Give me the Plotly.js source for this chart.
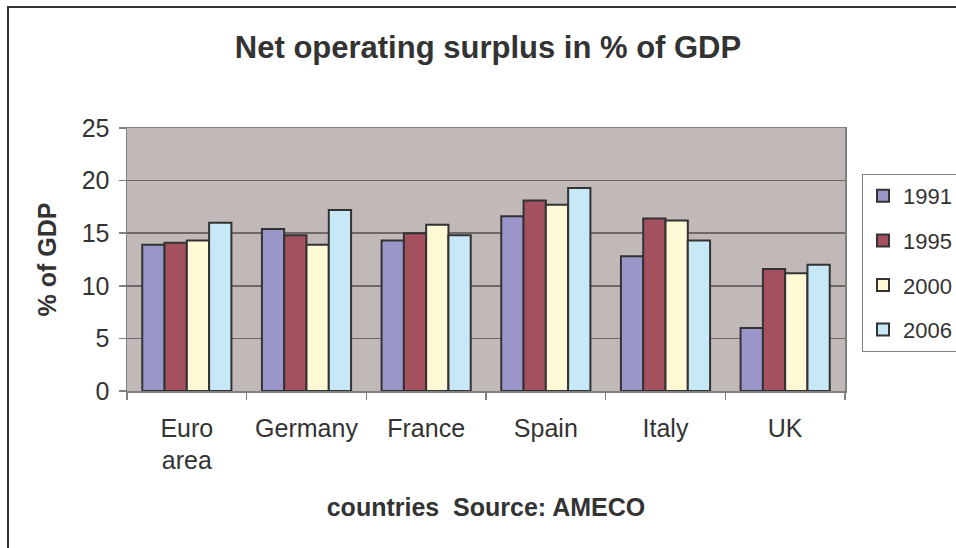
<!DOCTYPE html>
<html>
<head>
<meta charset="utf-8">
<script src="https://cdn.plot.ly/plotly-3.0.1.min.js"></script>
<style>
html,body{margin:0;padding:0;background:#fff;overflow:hidden;}
#chart{position:absolute;left:0;top:0;width:956px;height:548px;}
</style>
</head>
<body>
<div id="chart"></div>
<script>
const categories = ["Euro<br>area", "Germany", "France", "Spain", "Italy", "UK"];
const years = ["1991", "1995", "2000", "2006"];
const v1991 = [13.9, 15.4, 14.3, 16.6, 12.8, 6.0];
const v1995 = [14.1, 14.8, 15.0, 18.1, 16.4, 11.6];
const v2000 = [14.3, 13.9, 15.8, 17.7, 16.2, 11.2];
const v2006 = [16.0, 17.2, 14.8, 19.3, 14.3, 12.0];
const colors = ["#9b96c9", "#a5505f", "#fff9d6", "#c7e8f7"];
const series = [v1991, v1995, v2000, v2006];

const font = "Liberation Sans, Arial, sans-serif";
const W = 956, H = 548, ML = 127, MR = 111, MT = 128, MB = 157;
const PW = W - ML - MR, PH = H - MT - MB;
const px = x => (x - ML) / PW;
const py = y => (H - MB - y) / PH;

const data = series.map((vals, i) => ({
  type: "bar",
  name: years[i],
  legendgroup: years[i],
  x: categories,
  y: vals,
  marker: {color: colors[i], line: {color: "#333333", width: 2}},
  hoverinfo: "skip"
}));

const layout = {
  width: W, height: H,
  paper_bgcolor: "#ffffff",
  plot_bgcolor: "#c1b9b7",
  margin: {l: ML, r: MR, t: MT, b: MB, autoexpand: false},
  font: {family: font, color: "#333333", size: 25},
  title: {text: "<b>Net operating surplus in % of GDP</b>", font: {family: font, size: 31, color: "#333333"},
          xref: "paper", x: px(488), xanchor: "center", yref: "container", y: 1 - 47/H, yanchor: "middle"},
  barmode: "group",
  bargap: 0.255,
  bargroupgap: 0,
  showlegend: true,
  legend: {x: px(862), xanchor: "left", y: py(174), yanchor: "top",
           bordercolor: "#808080", borderwidth: 1, bgcolor: "rgba(0,0,0,0)",
           font: {family: font, size: 22, color: "#333333"}, tracegroupgap: 13, itemwidth: 30},
  shapes: [
    {type: "line", xref: "paper", yref: "paper", x0: px(8), x1: px(8), y0: py(6), y1: py(600), line: {color: "#333333", width: 2}},
    {type: "line", xref: "paper", yref: "paper", x0: px(7), x1: px(1000), y0: py(7), y1: py(7), line: {color: "#333333", width: 2}}
  ],
  xaxis: {
    type: "category",
    tickson: "boundaries",
    ticks: "outside", ticklen: 7, tickcolor: "#808080", tickwidth: 1.5,
    showline: true, linecolor: "#808080", linewidth: 1.5, mirror: true,
    showgrid: false,
    tickfont: {family: font, size: 25, color: "#333333"},
    ticklabelstandoff: 14,
    automargin: false,
    title: {text: "<b>countries  Source: AMECO</b>", font: {family: font, size: 25, color: "#333333"}, standoff: 25}
  },
  yaxis: {
    range: [0, 25], dtick: 5,
    ticks: "outside", ticklen: 7, tickcolor: "#808080", tickwidth: 1.5,
    showline: true, linecolor: "#808080", linewidth: 1.5, mirror: true,
    showgrid: true, gridcolor: "#6e6868", gridwidth: 1.5,
    zeroline: false,
    tickfont: {family: font, size: 25, color: "#333333"},
    ticklabelstandoff: 4,
    automargin: false,
    title: {text: "<b>% of GDP</b>", font: {family: font, size: 25, color: "#333333"}, standoff: 18}
  }
};

Plotly.newPlot("chart", data, layout, {staticPlot: true, displayModeBar: false});
</script>
</body>
</html>
